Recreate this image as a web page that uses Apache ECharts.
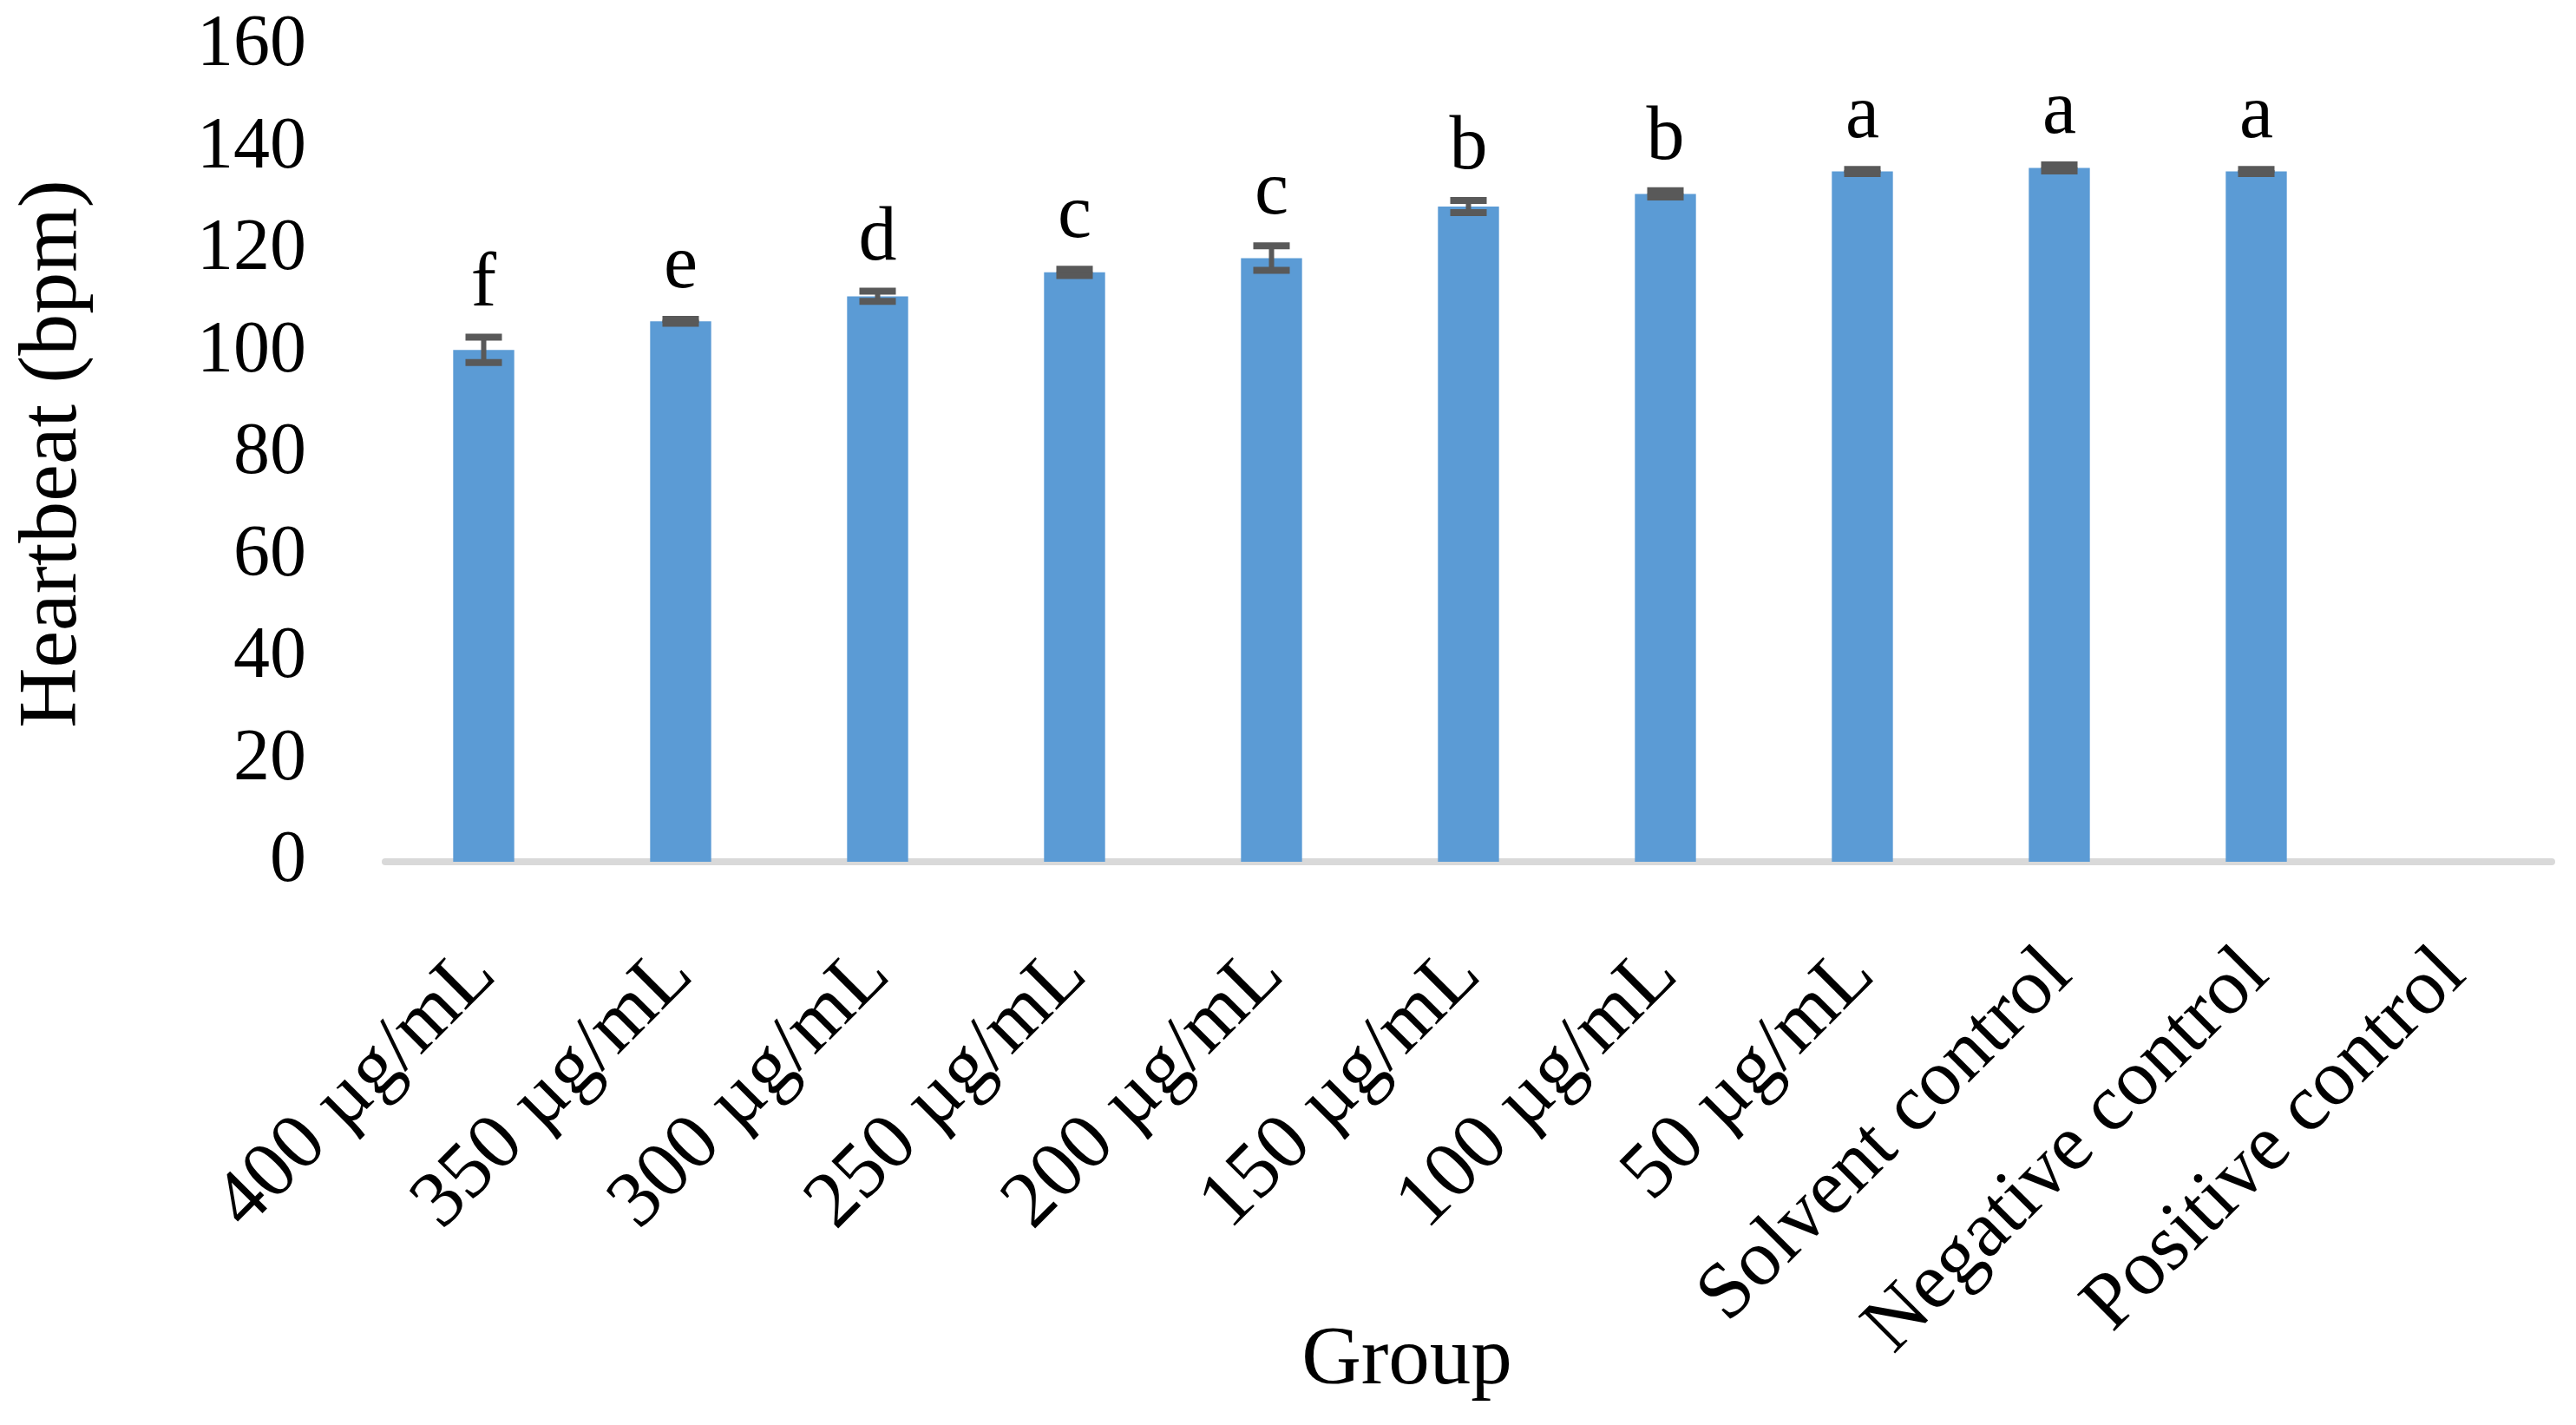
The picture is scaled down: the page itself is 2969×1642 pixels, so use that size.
<!DOCTYPE html>
<html>
<head>
<meta charset="utf-8">
<script src="https://cdn.jsdelivr.net/npm/echarts@6/dist/echarts.min.js"></script>
<style>
html,body{margin:0;padding:0;background:#fff;}
#chart{width:2969px;height:1642px;}
</style>
</head>
<body>
<div id="chart"></div>
<script>
const categories = ['400 µg/mL','350 µg/mL','300 µg/mL','250 µg/mL','200 µg/mL','150 µg/mL','100 µg/mL','50 µg/mL','Solvent control','Negative control','Positive control'];
const heartbeat = [100.4, 106.0, 110.9, 115.6, 118.4, 128.5, 131.0, 135.4, 136.1, 135.4, null];
const errors    = [2.5, 0.4, 1.0, 0.6, 2.4, 1.2, 0.6, 0.4, 0.6, 0.4, null];
const letters   = ['f','e','d','c','c','b','b','a','a','a',''];
const yTicks = {min: 0, max: 160, interval: 20};

const FONT = '"Liberation Serif", "DejaVu Serif", serif';

const errData = categories.map((c, i) => heartbeat[i] == null ? null : [i, heartbeat[i], errors[i]]).filter(d => d);

const chart = echarts.init(document.getElementById('chart'), null, {renderer: 'canvas'});
chart.setOption({
  backgroundColor: '#ffffff',
  animation: false,
  grid: {left: 444, right: 28, top: 53, bottom: 649, containLabel: false, outerBoundsMode: 'none'},
  xAxis: {
    type: 'category',
    data: categories,
    name: 'Group',
    nameLocation: 'middle',
    nameGap: 529,
    nameMoveOverlap: false,
    nameTextStyle: {fontFamily: FONT, fontSize: 95, color: '#000', padding: [0, 142, 0, 0]},
    axisLine: {show: true, lineStyle: {color: '#d9d9d9', width: 8}},
    axisTick: {show: false},
    axisLabel: {interval: 0, rotate: 45, margin: 116, fontFamily: FONT, fontSize: 92, color: '#000'}
  },
  yAxis: {
    type: 'value',
    min: yTicks.min, max: yTicks.max, interval: yTicks.interval,
    name: 'Heartbeat (bpm)',
    nameLocation: 'middle',
    nameGap: 334,
    nameMoveOverlap: false,
    nameTextStyle: {fontFamily: FONT, fontSize: 96, color: '#000'},
    axisLine: {show: false},
    axisTick: {show: false},
    splitLine: {show: false},
    axisLabel: {margin: 91, fontFamily: FONT, fontSize: 84, color: '#000'}
  },
  series: [
    {
      type: 'bar',
      data: heartbeat,
      barWidth: '31%',
      itemStyle: {color: '#5b9bd5'}
    },
    {
      type: 'custom',
      data: errData,
      z: 5,
      renderItem: function (params, api) {
        const i = api.value(0);
        const m = api.value(1);
        const e = api.value(2);
        const top = api.coord([i, m + e]);
        const bot = api.coord([i, m - e]);
        const x = top[0];
        const cap = 21;
        const st = {stroke: '#595959', lineWidth: 8};
        return {
          type: 'group',
          children: [
            {type: 'line', shape: {x1: x, y1: top[1], x2: x, y2: bot[1]}, style: {stroke: '#595959', lineWidth: 6}},
            {type: 'line', shape: {x1: x - cap, y1: top[1], x2: x + cap, y2: top[1]}, style: st},
            {type: 'line', shape: {x1: x - cap, y1: bot[1], x2: x + cap, y2: bot[1]}, style: st},
            {type: 'text', style: {text: letters[i], x: x, y: top[1] - 60, textAlign: 'center', textVerticalAlign: 'middle', font: '88px ' + FONT, fill: '#000'}}
          ]
        };
      }
    }
  ]
});
</script>
</body>
</html>
